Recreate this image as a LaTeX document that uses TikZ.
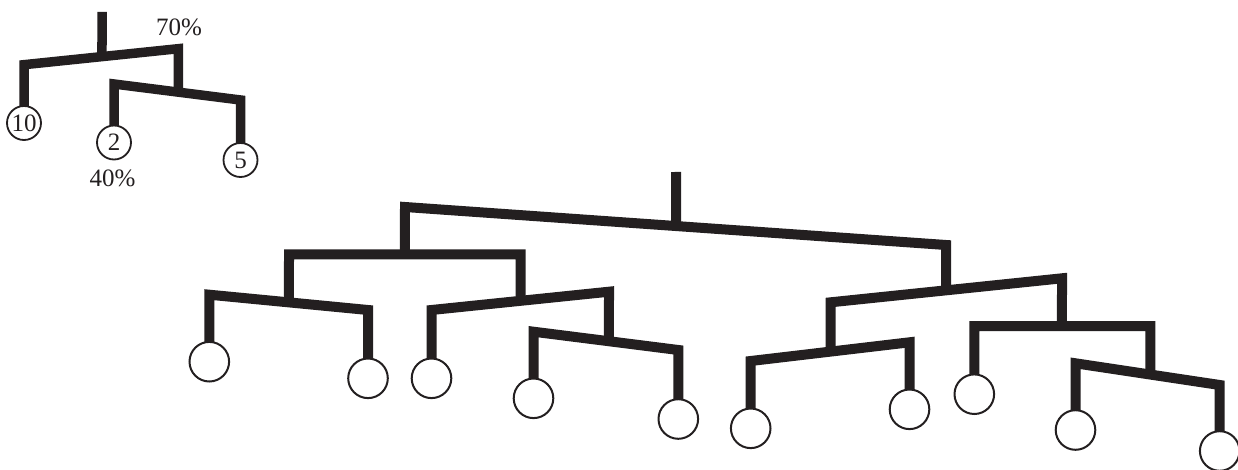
\documentclass[tikz,border=0pt]{standalone}
\usepackage{fontspec}
\setmainfont{Liberation Serif}
\usetikzlibrary{calc,backgrounds}
\definecolor{ink}{HTML}{231F20}
\begin{document}
\begin{tikzpicture}[x=1pt,y=-1pt,
  branch/.style={draw=ink,line width=10pt,line join=miter},
  sbranch/.style={draw=ink,line width=9.5pt,line join=miter},
  leaf/.style={circle,draw=ink,line width=2pt,fill=white,minimum size=39.6pt,inner sep=0pt},
  sleaf/.style={circle,draw=ink,line width=1.8pt,fill=white,minimum size=34pt,inner sep=0pt,font=\fontsize{25}{25}\selectfont,text=ink},
  lbl/.style={font=\fontsize{25}{25}\selectfont,text=ink,inner sep=0pt}]
\useasboundingbox (0,0) rectangle (1238,470);

% ---------- small tree ----------
\node[sleaf] (n10) at (24,123) {10};
\node[sleaf] (n2) at (114,142.5) {2};
\node[sleaf] (n5) at (240.5,160) {5};
\node[lbl] (p70) at (179,27) {70\%};
\node[lbl] (p40) at (112.5,178) {40\%};
\coordinate (sroot) at (102,12);
\coordinate (sA) at (24,64.7);
\coordinate (sB) at (178.3,48.7);
\coordinate (sC) at (114,84);
\coordinate (sD) at (240.5,100);
\coordinate (sj) at ($(sA)!0.5055!(sB)$);
\coordinate (sj2) at ($(sC)!0.508!(sD)$);

% ---------- large tree ----------
\node[leaf] (c1) at (209.3,361.7) {};
\node[leaf] (c2) at (368,378.3) {};
\node[leaf] (c3) at (431.5,378.3) {};
\node[leaf] (c4) at (533.5,398.3) {};
\node[leaf] (c5) at (678.3,419) {};
\node[leaf] (c6) at (750.7,428.3) {};
\node[leaf] (c7) at (909.5,409.3) {};
\node[leaf] (c8) at (974.3,394.2) {};
\node[leaf] (c9) at (1075.5,430) {};
\node[leaf] (c10) at (1219.7,451) {};

\coordinate (root) at (676,172);
\coordinate (T1) at (405,207);
\coordinate (T2) at (946,245);
\coordinate (L1) at (289,254.3);
\coordinate (L2) at (520.7,254.3);
\coordinate (LL1) at (209.3,294.7);
\coordinate (LL2) at (368,310);
\coordinate (LR1) at (431.5,310);
\coordinate (LR2) at (609,291.7);
\coordinate (LRR1) at (533.5,331.7);
\coordinate (LRR2) at (678.3,350);
\coordinate (R1) at (830.7,302.3);
\coordinate (R2) at (1062,278.3);
\coordinate (RL1) at (750.7,361);
\coordinate (RL2) at (909.5,342.3);
\coordinate (RR1) at (974.3,326);
\coordinate (RR2) at (1150.3,326);
\coordinate (RRR1) at (1075.5,363.3);
\coordinate (RRR2) at (1219.7,385);

\coordinate (jT) at ($(T1)!0.501!(T2)$);
\coordinate (jL) at ($(L1)!0.5!(L2)$);
\coordinate (jLL) at ($(LL1)!0.502!(LL2)$);
\coordinate (jLR) at ($(LR1)!0.5025!(LR2)$);
\coordinate (jLRR) at ($(LRR1)!0.521!(LRR2)$);
\coordinate (jR) at ($(R1)!0.4985!(R2)$);
\coordinate (jRL) at ($(RL1)!0.504!(RL2)$);
\coordinate (jRR) at ($(RR1)!0.498!(RR2)$);
\coordinate (jRRR) at ($(RRR1)!0.519!(RRR2)$);

\begin{scope}[on background layer]
  % small tree
  \draw[sbranch] (sroot) -- (sj);
  \draw[sbranch] (n10.center) -- (sA) -- (sB) -- (sj2);
  \draw[sbranch] (n2.center) -- (sC) -- (sD) -- (n5.center);
  % large tree
  \draw[branch] (root) -- (jT);
  \draw[branch] (jL) -- (T1) -- (T2) -- (jR);
  \draw[branch] (jLL) -- (L1) -- (L2) -- (jLR);
  \draw[branch] (c1.center) -- (LL1) -- (LL2) -- (c2.center);
  \draw[branch] (c3.center) -- (LR1) -- (LR2) -- (jLRR);
  \draw[branch] (c4.center) -- (LRR1) -- (LRR2) -- (c5.center);
  \draw[branch] (jRL) -- (R1) -- (R2) -- (jRR);
  \draw[branch] (c6.center) -- (RL1) -- (RL2) -- (c7.center);
  \draw[branch] (c8.center) -- (RR1) -- (RR2) -- (jRRR);
  \draw[branch] (c9.center) -- (RRR1) -- (RRR2) -- (c10.center);
\end{scope}
\end{tikzpicture}
\end{document}
